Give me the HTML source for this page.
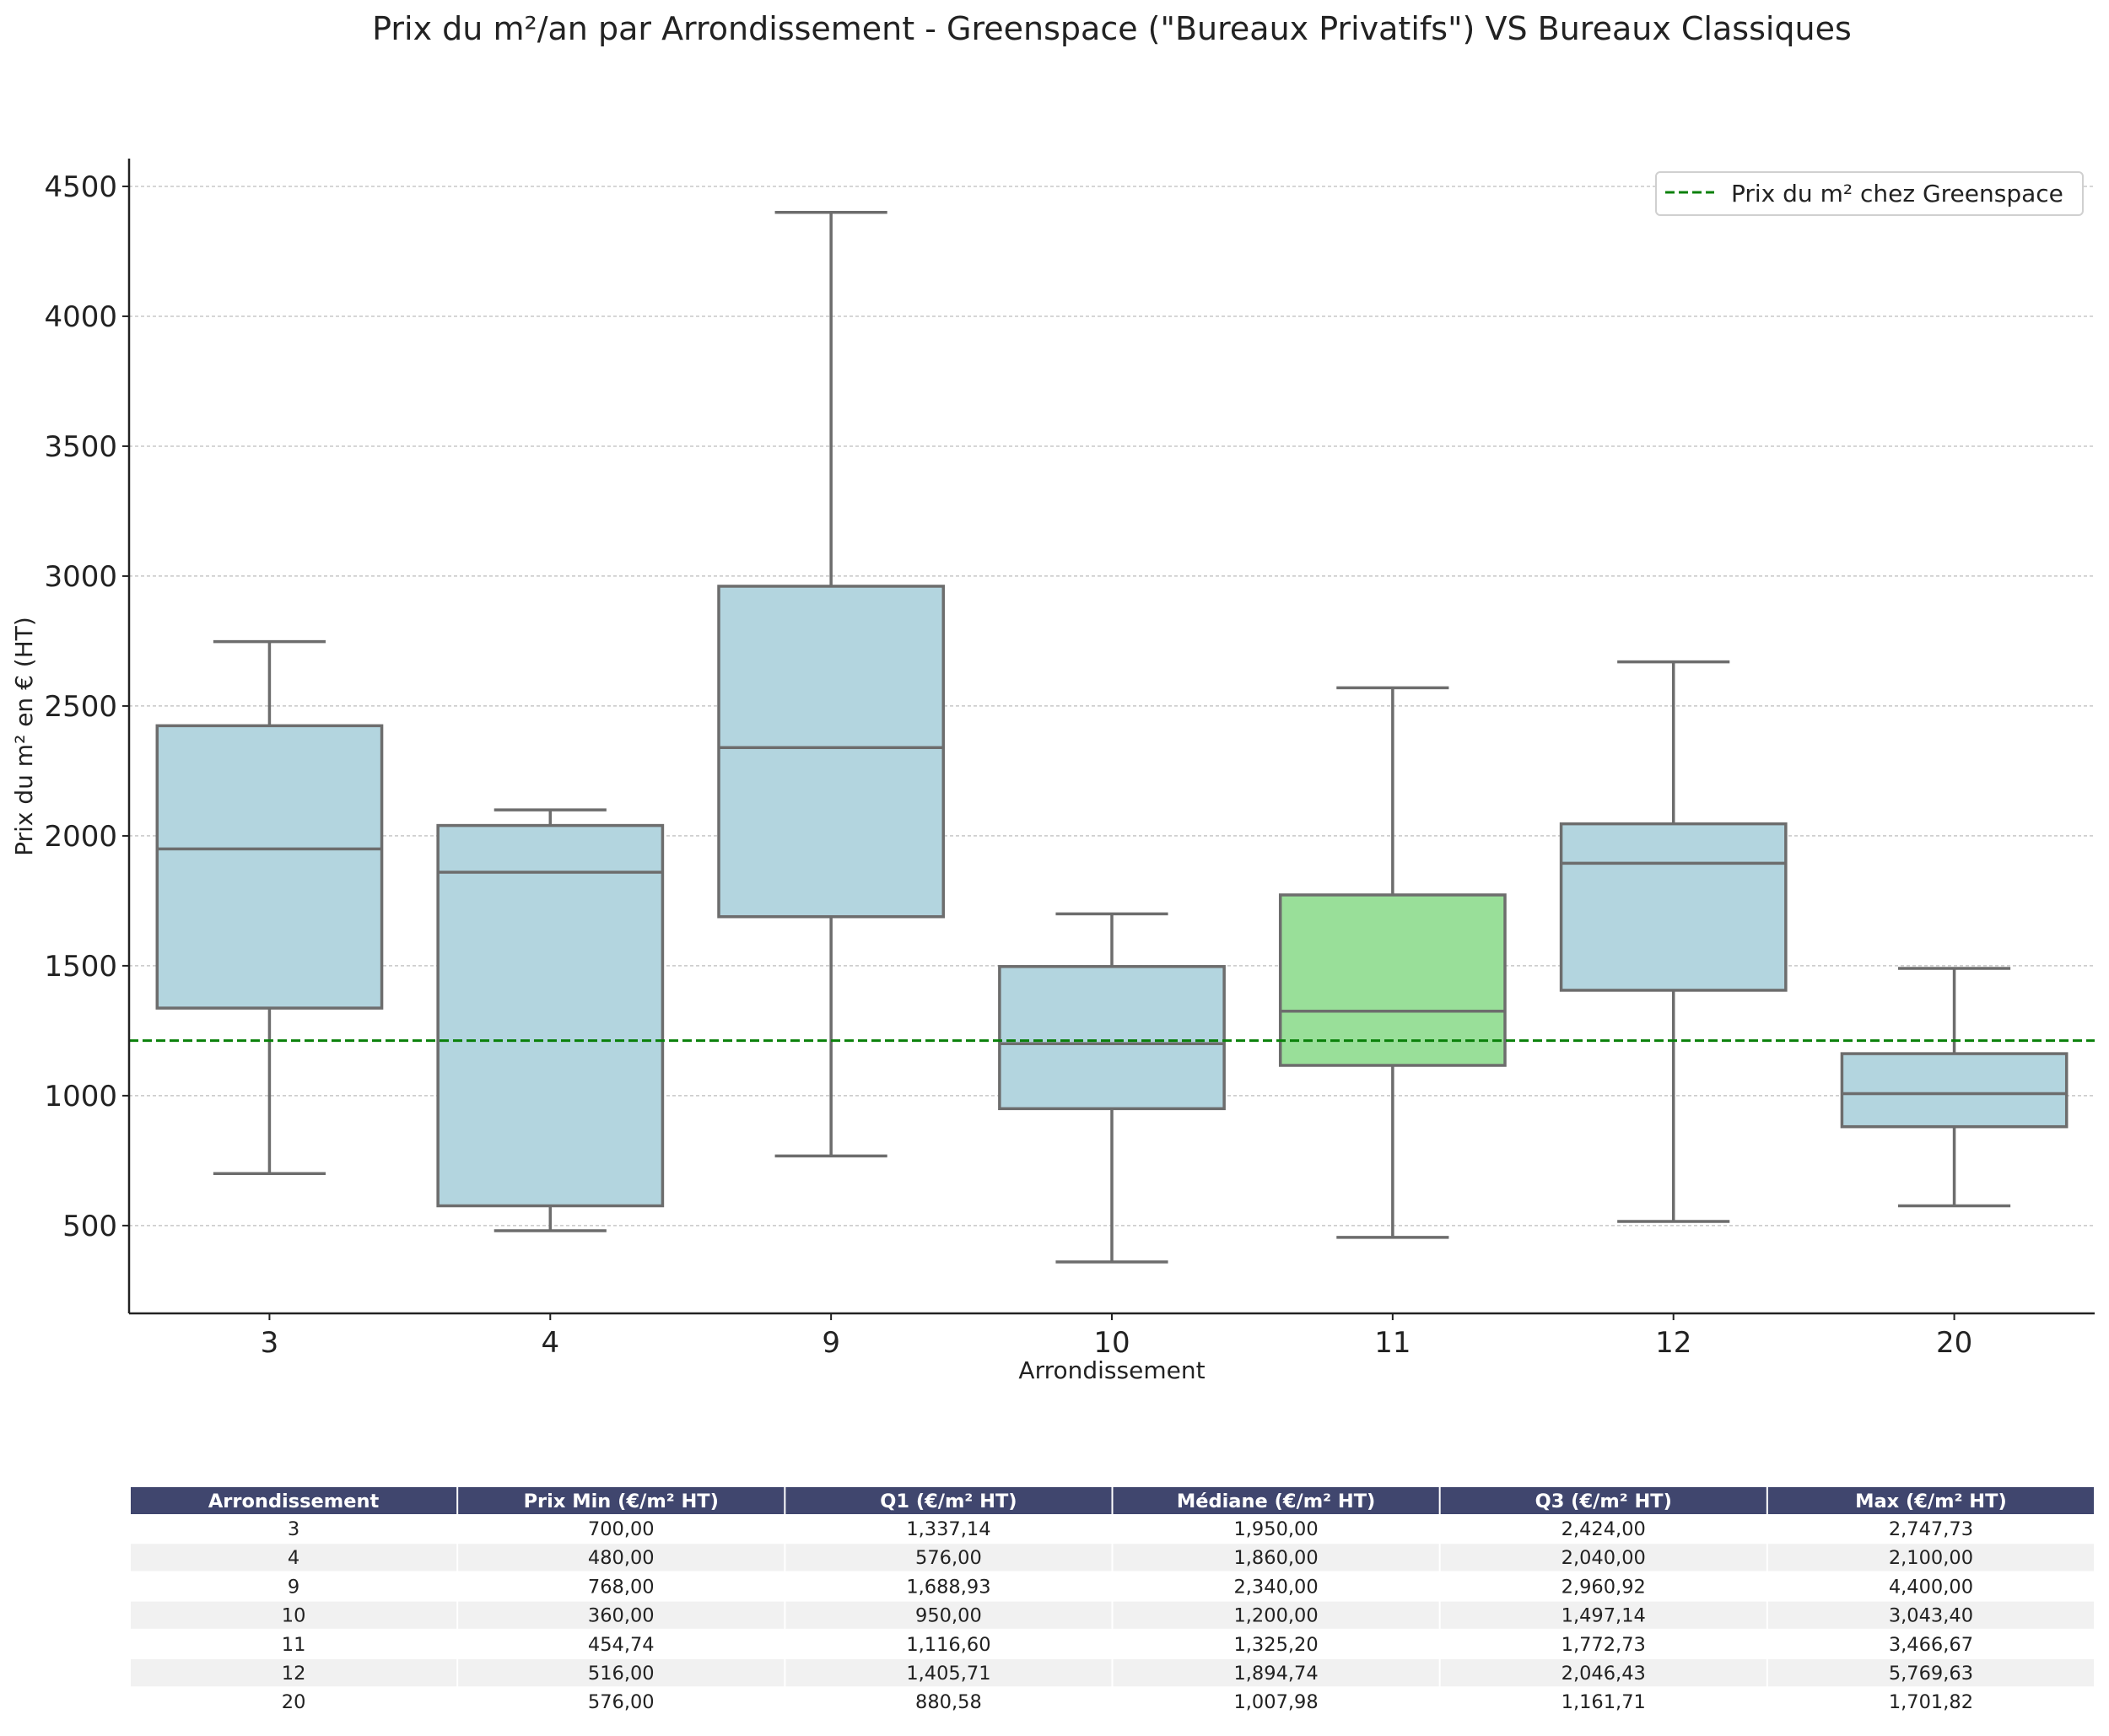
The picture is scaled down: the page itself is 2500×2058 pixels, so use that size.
<!DOCTYPE html>
<html><head><meta charset="utf-8"><style>
body{margin:0;background:#fff;}
svg text{font-family:"DejaVu Sans","Liberation Sans",sans-serif;}
</style></head><body>
<svg id="chart" width="2500" height="2053" viewBox="0 0 2500 2053" xmlns="http://www.w3.org/2000/svg">
<text x="1318" y="47" font-size="38" text-anchor="middle" fill="#222">Prix du m²/an par Arrondissement - Greenspace ("Bureaux Privatifs") VS Bureaux Classiques</text>
<g id="grid"></g><g id="boxes"></g><g id="axes"></g><g id="table"></g>
</svg>
<script>
const categories=['3','4','9','10','11','12','20'];
const whiskerLow=[700,480,768,360,454.74,516,576];
const q1=[1337.14,576,1688.93,950,1116.6,1405.71,880.58];
const median=[1950,1860,2340,1200,1325.2,1894.74,1007.98];
const q3=[2424,2040,2960.92,1497.14,1772.73,2046.43,1161.71];
const whiskerHigh=[2747.73,2100,4400,1700,2570,2670,1490];
const tableMax=['2,747,73','2,100,00','4,400,00','3,043,40','3,466,67','5,769,63','1,701,82'];
const highlight=[false,false,false,false,true,false,false];
const yTicks=[500,1000,1500,2000,2500,3000,3500,4000,4500];
const greenspacePrice=1212;
const tableHeaders=['Arrondissement','Prix Min (€/m² HT)','Q1 (€/m² HT)','Médiane (€/m² HT)','Q3 (€/m² HT)','Max (€/m² HT)'];

const NS='http://www.w3.org/2000/svg';
const X0=153,X1=2483,Y0=188,Y1=1557,V0=162,V1=4607;
const y=v=>Y1-(v-V0)/(V1-V0)*(Y1-Y0);
const step=(X1-X0)/categories.length;
const xc=i=>X0+step*(i+0.5);
function mk(tag,at,parent,txt){const e=document.createElementNS(NS,tag);for(const k in at)e.setAttribute(k,at[k]);if(txt!==undefined)e.textContent=txt;parent.appendChild(e);return e;}
const G=document.getElementById('grid'),B=document.getElementById('boxes'),A=document.getElementById('axes'),T=document.getElementById('table');
yTicks.forEach(t=>{
  const l=mk('line',{x1:X0,x2:X1,y1:y(t),y2:y(t),stroke:'#c8c8c8','stroke-width':1.5,'stroke-dasharray':'4,3'},G);
  
  
  mk('line',{x1:X0-8,x2:X0,y1:y(t),y2:y(t),stroke:'#222','stroke-width':2},A);
  const tx=mk('text',{x:X0-14,y:y(t)+12,'font-size':34,'text-anchor':'end',fill:'#222'},A,String(t));
  
  
});
const gc='#6d6d6d',hw=step*0.4,cw=step*0.2;
categories.forEach((c,i)=>{
  const g=mk('g',{},B);
  
  
  const x=xc(i);
  mk('line',{x1:x,x2:x,y1:y(q3[i]),y2:y(whiskerHigh[i]),stroke:gc,'stroke-width':3.5},g);
  mk('line',{x1:x,x2:x,y1:y(q1[i]),y2:y(whiskerLow[i]),stroke:gc,'stroke-width':3.5},g);
  mk('line',{x1:x-cw,x2:x+cw,y1:y(whiskerHigh[i]),y2:y(whiskerHigh[i]),stroke:gc,'stroke-width':3.5},g);
  mk('line',{x1:x-cw,x2:x+cw,y1:y(whiskerLow[i]),y2:y(whiskerLow[i]),stroke:gc,'stroke-width':3.5},g);
  mk('rect',{x:x-hw,y:y(q3[i]),width:2*hw,height:y(q1[i])-y(q3[i]),fill:highlight[i]?'#99df99':'#b3d5df',stroke:gc,'stroke-width':3.5},g);
  mk('line',{x1:x-hw,x2:x+hw,y1:y(median[i]),y2:y(median[i]),stroke:gc,'stroke-width':3.5},g);
  mk('line',{x1:x,x2:x,y1:Y1,y2:Y1+8,stroke:'#222','stroke-width':2},A);
  const tl=mk('text',{x:x,y:Y1+46,'font-size':34,'text-anchor':'middle',fill:'#222'},A,c);
  
  
});
const gl=mk('line',{x1:X0,x2:X1,y1:y(greenspacePrice),y2:y(greenspacePrice),stroke:'#0a800a','stroke-width':3,'stroke-dasharray':'11,5'},B);


mk('line',{x1:X0,x2:X0,y1:Y0,y2:Y1,stroke:'#222','stroke-width':2.5},A);
mk('line',{x1:X0,x2:X1,y1:Y1,y2:Y1,stroke:'#222','stroke-width':2.5},A);
const xt=mk('text',{x:(X0+X1)/2,y:1634,'font-size':28,'text-anchor':'middle',fill:'#222'},A,'Arrondissement');


const yt=mk('text',{x:0,y:0,'font-size':28,'text-anchor':'middle',fill:'#222',transform:'translate(38,873) rotate(-90)'},A,'Prix du m² en € (HT)');


const lg=mk('g',{},A);


mk('rect',{x:1963,y:204,width:506,height:51,rx:5,fill:'#fff',stroke:'#d0d0d0','stroke-width':2},lg);
mk('line',{x1:1974,x2:2032,y1:228,y2:228,stroke:'#0a800a','stroke-width':3,'stroke-dasharray':'11,5'},lg);
mk('text',{x:2052,y:239,'font-size':28,fill:'#222'},lg,'Prix du m² chez Greenspace');
const TX=154,TW=2329,cwid=TW/6,TY=1763,HH=32,RH=34.2;
const rows=categories.map((c,i)=>{const f=v=>v.toLocaleString('en-US',{minimumFractionDigits:2,maximumFractionDigits:2}).replace(/\.(\d\d)$/,',$1');return [c,f(whiskerLow[i]),f(q1[i]),f(median[i]),f(q3[i]),tableMax[i]];});
tableHeaders.forEach((h,j)=>{
  mk('rect',{x:TX+j*cwid+1,y:TY,width:cwid-2,height:HH,fill:'#40466e'},T);
  const ht=mk('text',{x:TX+(j+0.5)*cwid,y:TY+24,'font-size':22.5,'font-weight':'bold','text-anchor':'middle',fill:'#fff'},T,h);
  
  
});
rows.forEach((r,i)=>{
  r.forEach((v,j)=>{
    const ry=TY+HH+i*RH;
    mk('rect',{x:TX+j*cwid+1,y:ry+1,width:cwid-2,height:RH-2,fill:i%2?'#f1f1f1':'#fff'},T);
    const ct=mk('text',{x:TX+(j+0.5)*cwid,y:ry+25,'font-size':22.5,'text-anchor':'middle',fill:'#222'},T,v);
    
    
  });
});
</script>
</body></html>
